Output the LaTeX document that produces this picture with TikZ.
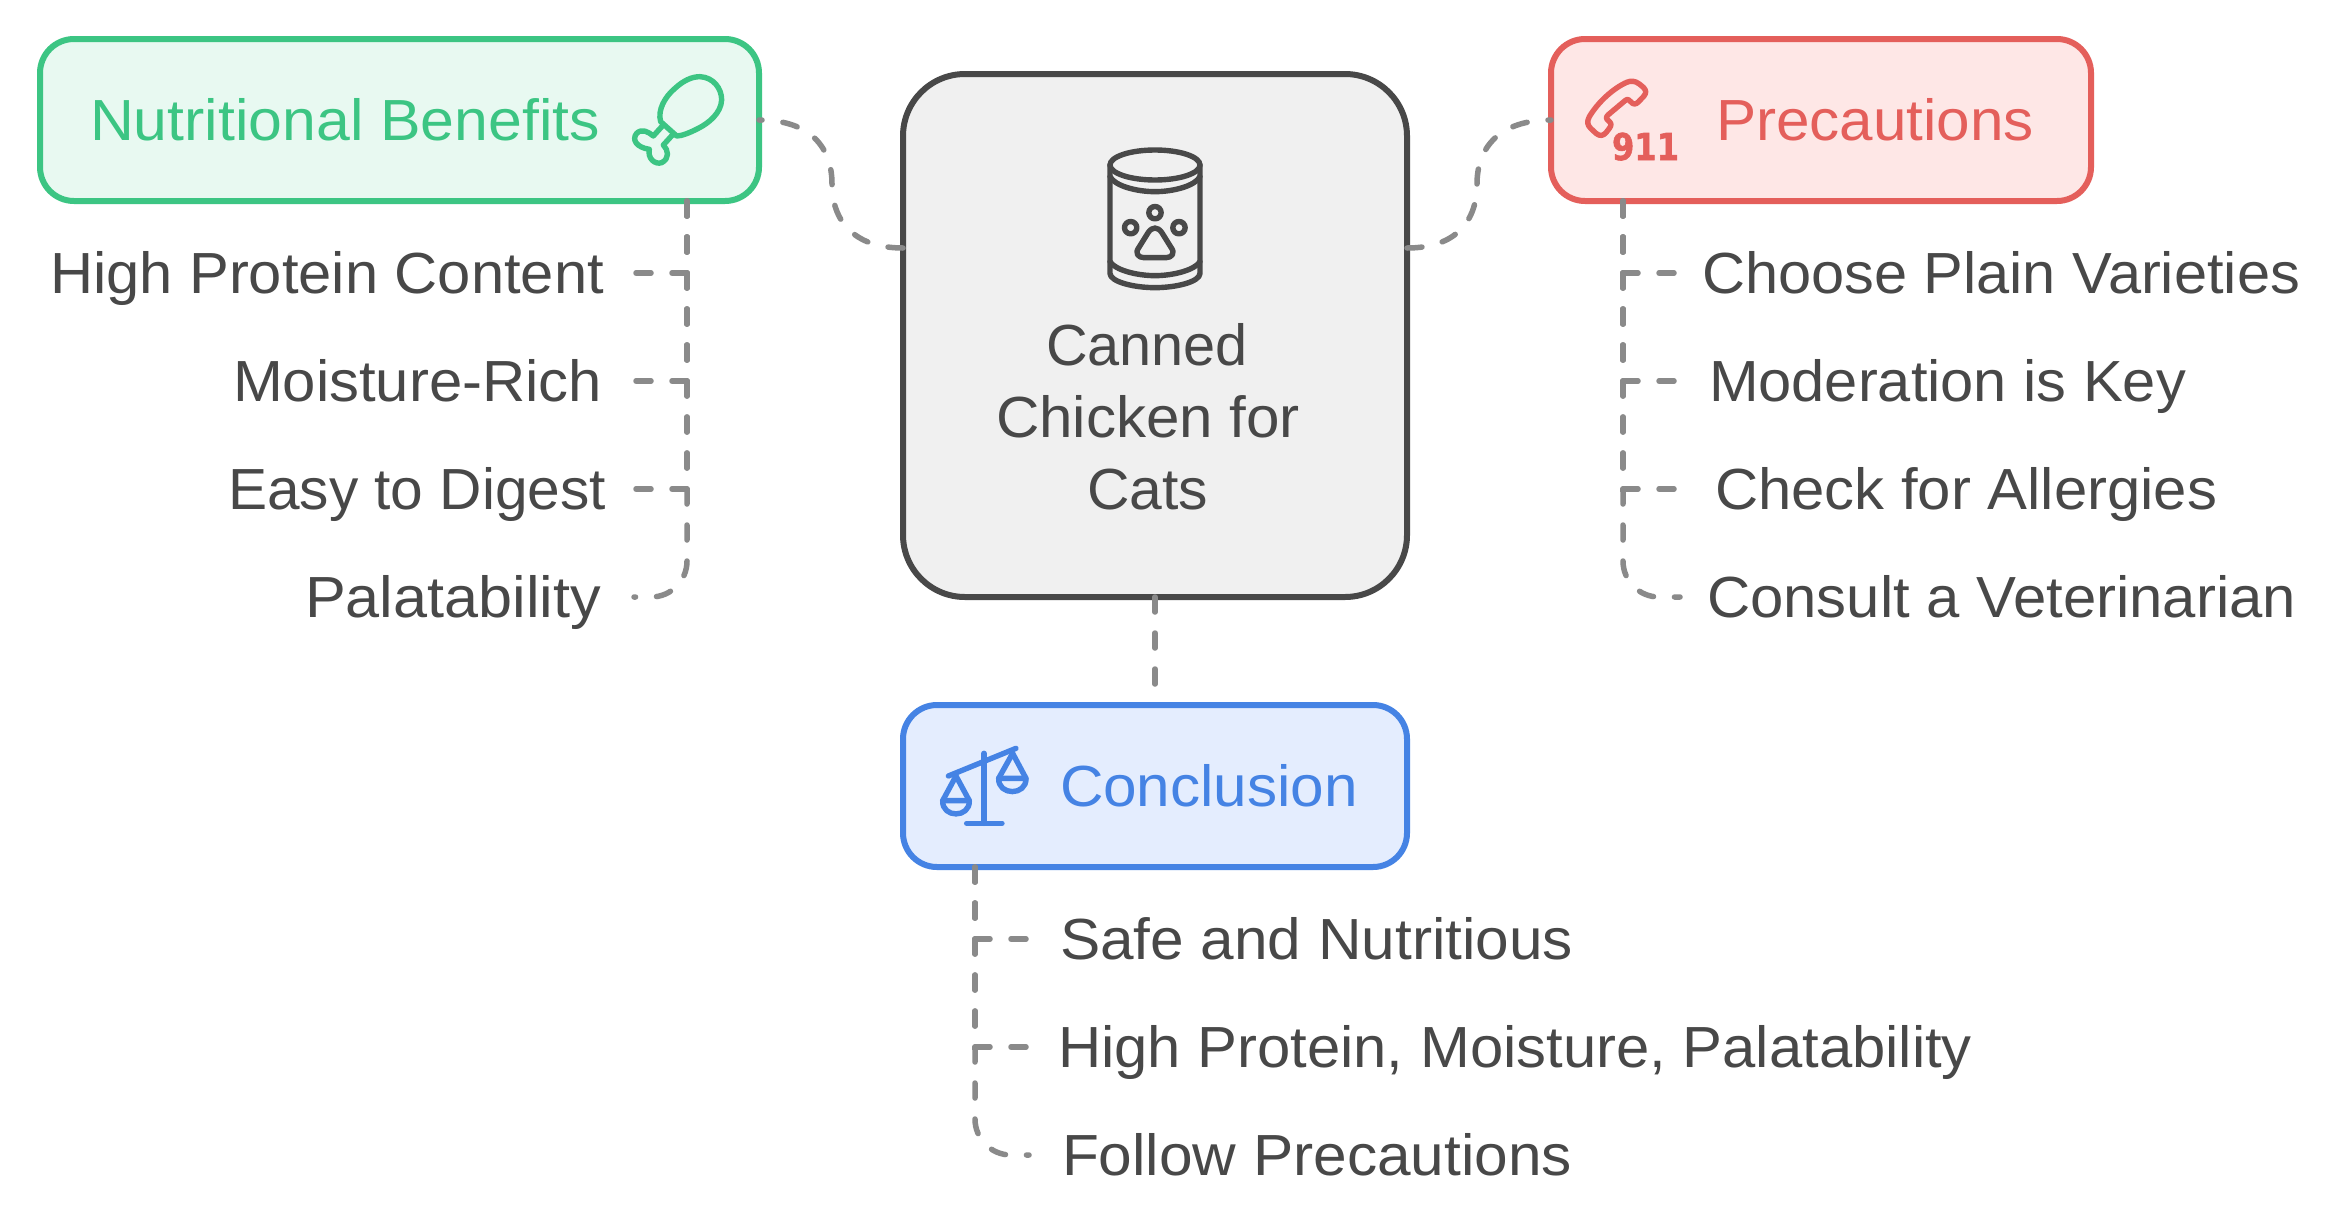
\documentclass[tikz,border=0pt]{standalone}
\usepackage{graphicx}
\usepackage{fontspec}
\setmainfont{Liberation Sans}
\newfontfamily\digitfont[FakeBold=1.6]{DejaVu Sans Bold}
\definecolor{ink}{HTML}{484848}
\definecolor{dashgray}{HTML}{8A8A8A}
\definecolor{greenline}{HTML}{3CC583}
\definecolor{greenfill}{HTML}{E8F9F1}
\definecolor{redline}{HTML}{E45F5B}
\definecolor{redfill}{HTML}{FEE7E6}
\definecolor{blueline}{HTML}{4583E4}
\definecolor{bluefill}{HTML}{E4EDFE}
\definecolor{corefill}{HTML}{F0F0F0}
% Sets text to an exact width, keeping its natural height
\newcommand{\fitw}[2]{\resizebox{#1pt}{\height}{#2}}
\tikzset{
  x=1pt, y=-1pt,
  card/.style={draw, line width=6pt, rounded corners=34pt, inner sep=0pt, outer sep=0pt, anchor=north west},
  label/.style={inner sep=0pt, outer sep=0pt, anchor=base west, text=ink, font=\fontsize{58}{70}\selectfont},
  conn/.style={draw=dashgray, line width=5.5pt, line cap=round, dash pattern=on 15pt off 21pt},
  curved/.style={conn, rounded corners=36pt},
  icon/.style={line width=5.4pt, line cap=round, line join=round},
}
\begin{document}
\begin{tikzpicture}
\useasboundingbox[fill=white] (0,0) rectangle (2343,1227);

% cards
\node[card, draw=greenline, fill=greenfill, minimum width=719pt, minimum height=162pt] (nb) at (40,39) {};
\node[card, draw=redline, fill=redfill, minimum width=540pt, minimum height=162pt] (pr) at (1551,39) {};
\node[card, draw=blueline, fill=bluefill, minimum width=504pt, minimum height=162pt] (co) at (903,705) {};
\node[card, draw=ink, fill=corefill, rounded corners=62pt, minimum width=504pt, minimum height=523pt] (core) at (903,74) {};

% card titles
\node[label, text=greenline] (nbt) at (90,140) {\fitw{510}{Nutritional Benefits}};
\node[label, text=redline] (prt) at (1716,140) {\fitw{318}{Precautions}};
\node[label, text=blueline] (cot) at (1060,806) {\fitw{298}{Conclusion}};
\node[label] (c1) at (1046,365) {\fitw{202}{Canned}};
\node[label] (c2) at (996,437) {\fitw{304}{Chicken for}};
\node[label] (c3) at (1087,509) {\fitw{121}{Cats}};

% items on the left
\node[label] (l1) at (50,293) {\fitw{554}{High Protein Content}};
\node[label] (l2) at (233,401) {\fitw{369}{Moisture-Rich}};
\node[label] (l3) at (228,509) {\fitw{378}{Easy to Digest}};
\node[label] (l4) at (305,617) {\fitw{296}{Palatability}};

% items on the right
\node[label] (r1) at (1702,293) {\fitw{598}{Choose Plain Varieties}};
\node[label] (r2) at (1709,401) {\fitw{477}{Moderation is Key}};
\node[label] (r3) at (1715,509) {\fitw{502}{Check for Allergies}};
\node[label] (r4) at (1707,617) {\fitw{589}{Consult a Veterinarian}};

% items below
\node[label] (b1) at (1060,959) {\fitw{513}{Safe and Nutritious}};
\node[label] (b2) at (1058,1067) {\fitw{914}{High Protein, Moisture, Palatability}};
\node[label] (b3) at (1062,1175) {\fitw{510}{Follow Precautions}};

% connectors between the central card and the others
\coordinate (jl) at (832,184);
\coordinate (jr) at (1477,184);
\draw[conn] ([yshift=87.5pt]core.west) .. controls +(-50,0) and +(0,36) .. (jl) .. controls +(0,-36) and +(52,0) .. (nb.east);
\draw[conn] ([yshift=87.5pt]core.east) .. controls +(50,0) and +(0,36) .. (jr) .. controls +(0,-36) and +(-52,0) .. (pr.west);
\coordinate (cotop) at ([yshift=21pt]co.north);
\draw[conn] (core.south) -- (cotop);

% left branches
\coordinate (sl) at ([xshift=-72pt]nb.south east);
\draw[conn] (sl) |- ([xshift=30pt,yshift=20pt]l1.base east);
\draw[conn] (sl) |- ([xshift=32pt,yshift=20pt]l2.base east);
\draw[conn] (sl) |- ([xshift=28pt,yshift=20pt]l3.base east);
\draw[curved] (sl) |- ([xshift=33pt,yshift=20pt]l4.base east);

% right branches
\coordinate (sr) at ([xshift=72pt]pr.south west);
\draw[conn] (sr) |- ([xshift=-25pt,yshift=20pt]r1.base west);
\draw[conn] (sr) |- ([xshift=-32pt,yshift=20pt]r2.base west);
\draw[conn] (sr) |- ([xshift=-38pt,yshift=20pt]r3.base west);
\draw[curved] (sr) |- ([xshift=-27pt,yshift=20pt]r4.base west);

% lower branches
\coordinate (sb) at ([xshift=72pt]co.south west);
\draw[conn] (sb) |- ([xshift=-31pt,yshift=20pt]b1.base west);
\draw[conn] (sb) |- ([xshift=-29pt,yshift=20pt]b2.base west);
\draw[curved] (sb) |- ([xshift=-33pt,yshift=20pt]b3.base west);

% drumstick
\begin{scope}[shift={(620,60)}, x=0.3333pt, y=-0.3333pt, icon, draw=greenline]
  \draw (122,185) .. controls (112,150) and (135,110) .. (165,85)
        .. controls (190,62) and (215,50) .. (240,50)
        .. controls (280,52) and (305,85) .. (305,120)
        .. controls (303,160) and (265,190) .. (235,205)
        .. controls (210,218) and (185,228) .. (170,228) -- cycle;
  \draw (128,197) -- (100,228)
        .. controls (85,215) and (65,205) .. (50,220)
        .. controls (35,238) and (48,262) .. (88,268)
        .. controls (82,295) and (105,315) .. (125,308)
        .. controls (150,295) and (145,270) .. (130,255) -- (160,222);
\end{scope}

% can with a paw print
\begin{scope}[shift={(1000,100)}, x=0.3333pt, y=-0.3333pt, icon, draw=ink]
  \draw (465,195) ellipse [x radius=135, y radius=45];
  \draw (330,195) -- (330,520) .. controls (330,545) and (400,563) .. (465,563)
        .. controls (530,563) and (600,545) .. (600,520) -- (600,195);
  \draw (330,230) .. controls (345,258) and (410,275) .. (465,275)
        .. controls (520,275) and (585,258) .. (600,230);
  \draw (330,485) .. controls (345,510) and (410,527) .. (465,527)
        .. controls (520,527) and (585,510) .. (600,485);
  \draw (465,338) circle [radius=18.5];
  \draw (392,383) circle [radius=18.5];
  \draw (537,383) circle [radius=18.5];
  \draw (445,397) .. controls (457,380) and (473,380) .. (485,397)
        -- (513,442) .. controls (527,460) and (515,473) .. (498,473)
        -- (432,473) .. controls (415,473) and (403,460) .. (417,442) -- cycle;
\end{scope}

% telephone with the emergency number
\begin{scope}[shift={(1570,70)}, x=0.3333pt, y=-0.3333pt, icon, draw=redline]
  \draw (170,37) .. controls (130,55) and (85,95) .. (58,140)
        .. controls (50,155) and (52,165) .. (62,175)
        -- (78,190) .. controls (90,200) and (100,197) .. (108,188)
        -- (118,175) .. controls (125,165) and (125,160) .. (115,152)
        .. controls (107,146) and (108,140) .. (115,134)
        -- (165,92) .. controls (172,86) and (178,88) .. (182,95)
        .. controls (190,105) and (198,103) .. (205,96)
        -- (222,78) .. controls (230,68) and (228,60) .. (220,52)
        -- (208,42) .. controls (195,32) and (182,32) .. (170,37) -- cycle;
\end{scope}
\node[inner sep=0pt, outer sep=0pt, anchor=base west, text=redline, font=\digitfont\fontsize{37}{40}\selectfont] (nine) at (1612,160) {\fitw{67}{911}};

% balance scale
\begin{scope}[shift={(880,690)}, x=0.3333pt, y=-0.3333pt, icon, draw=blueline]
  \draw (205,258) -- (408,175);
  \draw (312,190) -- (312,400);
  \draw (260,400) -- (366,400);
  \draw (188,332) -- (228,258) -- (268,332);
  \draw (188,332) -- (268,332) .. controls (270,385) and (186,385) .. (188,332);
  \draw (356,265) -- (398,190) -- (438,265);
  \draw (356,265) -- (438,265) .. controls (440,318) and (354,318) .. (356,265);
\end{scope}
\end{tikzpicture}
\end{document}
